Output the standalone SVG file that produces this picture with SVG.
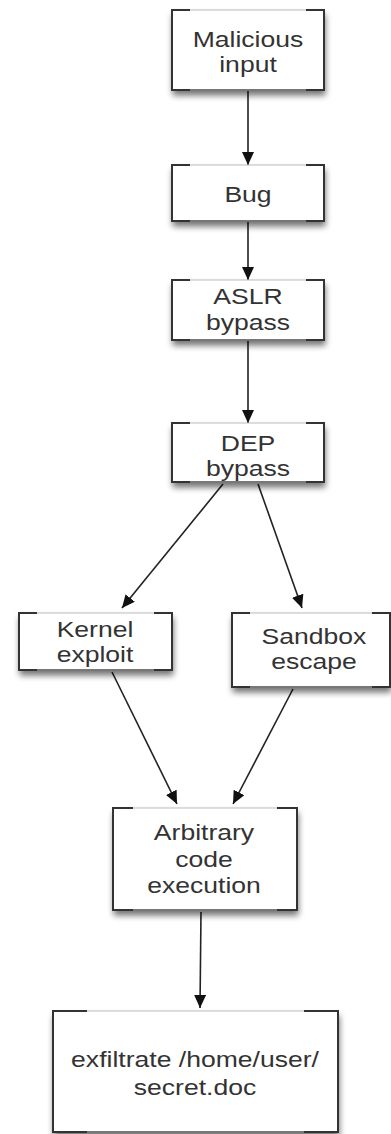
<svg xmlns="http://www.w3.org/2000/svg" width="391" height="1134" viewBox="0 0 391 1134">
<defs>
<filter id="sh" x="-20%" y="-20%" width="140%" height="150%">
<feGaussianBlur in="SourceAlpha" stdDeviation="3"/>
<feOffset dx="1" dy="5" result="b"/>
<feComponentTransfer><feFuncA type="linear" slope="0.55"/></feComponentTransfer>
<feMerge><feMergeNode/><feMergeNode in="SourceGraphic"/></feMerge>
</filter>
<marker id="ah" markerUnits="userSpaceOnUse" markerWidth="14" markerHeight="12" refX="13" refY="6" orient="auto">
<path d="M0,0 L13,6 L0,12 z" fill="#111"/>
</marker>
</defs>
<style>
.box{fill:#fff;stroke:#bbb;stroke-width:1;filter:url(#sh)}
.edge{fill:none;stroke:#333;stroke-width:2}
.bot{fill:none;stroke:#777;stroke-width:2}
.t{font-family:"Liberation Sans",Arial,sans-serif;font-size:22.5px;fill:#333;text-anchor:middle}
.c{fill:none;stroke:#222;stroke-width:1.6;marker-end:url(#ah)}
</style>
<rect width="391" height="1134" fill="#fff"/>
<g id="connectors">
<line class="c" x1="248" y1="91" x2="248" y2="165"/>
<line class="c" x1="248" y1="222" x2="248" y2="280"/>
<line class="c" x1="248" y1="341" x2="248" y2="423"/>
<line class="c" x1="223" y1="484" x2="122" y2="608"/>
<line class="c" x1="258" y1="484" x2="302" y2="608"/>
<line class="c" x1="112" y1="672" x2="177" y2="804"/>
<line class="c" x1="293" y1="689" x2="233" y2="804"/>
<line class="c" x1="201" y1="912" x2="200" y2="1008"/>
</g>
<g id="n1">
<rect class="box" x="172" y="10" width="152" height="80"/>
<path class="bot" d="M172,90 H324"/>
<path class="edge" d="M190,10 H172 V90 H190 M306,10 H324 V90 H306"/>
<text class="t" transform="translate(248 47) scale(1.18 1)">Malicious</text>
<text class="t" transform="translate(248 72) scale(1.18 1)">input</text>
</g>
<g id="n2">
<rect class="box" x="172" y="165" width="152" height="56"/>
<path class="bot" d="M172,221 H324"/>
<path class="edge" d="M190,165 H172 V221 H190 M306,165 H324 V221 H306"/>
<text class="t" transform="translate(248 202) scale(1.18 1)">Bug</text>
</g>
<g id="n3">
<rect class="box" x="172" y="280" width="152" height="60"/>
<path class="bot" d="M172,340 H324"/>
<path class="edge" d="M190,280 H172 V340 H190 M306,280 H324 V340 H306"/>
<text class="t" transform="translate(248 304) scale(1.18 1)">ASLR</text>
<text class="t" transform="translate(248 330) scale(1.18 1)">bypass</text>
</g>
<g id="n4">
<rect class="box" x="172" y="423" width="152" height="59"/>
<path class="bot" d="M172,482 H324"/>
<path class="edge" d="M190,423 H172 V482 H190 M306,423 H324 V482 H306"/>
<text class="t" transform="translate(248 451) scale(1.18 1)">DEP</text>
<text class="t" transform="translate(248 476) scale(1.18 1)">bypass</text>
</g>
<g id="n5">
<rect class="box" x="19" y="613" width="153" height="57"/>
<path class="bot" d="M19,670 H172"/>
<path class="edge" d="M37,613 H19 V670 H37 M154,613 H172 V670 H154"/>
<text class="t" transform="translate(95 637) scale(1.18 1)">Kernel</text>
<text class="t" transform="translate(95 662) scale(1.18 1)">exploit</text>
</g>
<g id="n6">
<rect class="box" x="232" y="613" width="158" height="74"/>
<path class="bot" d="M232,687 H390"/>
<path class="edge" d="M250,613 H232 V687 H250 M372,613 H390 V687 H372"/>
<text class="t" transform="translate(314 644) scale(1.18 1)">Sandbox</text>
<text class="t" transform="translate(314 669) scale(1.18 1)">escape</text>
</g>
<g id="n7">
<rect class="box" x="113" y="808" width="184" height="102"/>
<path class="bot" d="M113,910 H297"/>
<path class="edge" d="M133,808 H113 V910 H133 M277,808 H297 V910 H277"/>
<text class="t" transform="translate(204 840) scale(1.18 1)">Arbitrary</text>
<text class="t" transform="translate(204 867) scale(1.18 1)">code</text>
<text class="t" transform="translate(204 893) scale(1.18 1)">execution</text>
</g>
<g id="n8">
<rect class="box" x="53" y="1011" width="285" height="121"/>
<path class="bot" d="M53,1132 H338"/>
<path class="edge" d="M87,1011 H53 V1132 H87 M304,1011 H338 V1132 H304"/>
<text class="t" transform="translate(195 1067) scale(1.18 1)">exfiltrate /home/user/</text>
<text class="t" transform="translate(195 1095) scale(1.18 1)">secret.doc</text>
</g>
</svg>
